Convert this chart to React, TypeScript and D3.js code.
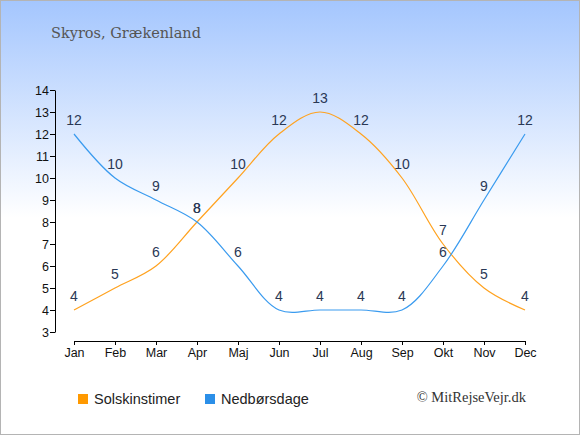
import React, { useEffect, useRef } from "react";
import * as d3 from "d3";

const months = ["Jan", "Feb", "Mar", "Apr", "Maj", "Jun", "Jul", "Aug", "Sep", "Okt", "Nov", "Dec"];
const sunHours = [4, 5, 6, 8, 10, 12, 13, 12, 10, 7, 5, 4];
const rainDays = [12, 10, 9, 8, 6, 4, 4, 4, 4, 6, 9, 12];
const yTicks = [3, 4, 5, 6, 7, 8, 9, 10, 11, 12, 13, 14];

const series = [
  { name: "Solskinstimer", values: sunHours, color: "#ffa21f", legend: "#ff9900" },
  { name: "Nedbørsdage", values: rainDays, color: "#3a9bef", legend: "#2b8fe8" },
];

const W = 580;
const H = 435;

const Chart: React.FC = () => {
  const ref = useRef<SVGSVGElement | null>(null);

  useEffect(() => {
    const svg = d3.select(ref.current);
    svg.selectAll("*").remove();

    // background
    const defs = svg.append("defs");
    const grad = defs
      .append("linearGradient")
      .attr("id", "bg")
      .attr("x1", 0)
      .attr("y1", 0)
      .attr("x2", 0)
      .attr("y2", 1);
    grad.append("stop").attr("offset", "0%").attr("stop-color", "#a4c6fe");
    grad.append("stop").attr("offset", "50%").attr("stop-color", "#ffffff");
    grad.append("stop").attr("offset", "100%").attr("stop-color", "#ffffff");

    svg
      .append("rect")
      .attr("x", 0.5)
      .attr("y", 0.5)
      .attr("width", W - 1)
      .attr("height", H - 1)
      .attr("fill", "url(#bg)")
      .attr("stroke", "#b4b4b4");

    svg
      .append("text")
      .attr("x", 51)
      .attr("y", 38)
      .style("font-family", "'DejaVu Serif', serif")
      .style("font-size", "14.5px")
      .attr("fill", "#555")
      .text("Skyros, Grækenland");

    const x = d3.scalePoint<string>().domain(months).range([74, 525]);
    const y = d3.scaleLinear().domain([3, 14]).range([332, 90]);

    // Y axis
    const yAxis = svg
      .append("g")
      .attr("transform", "translate(55,0)")
      .call(d3.axisLeft(y).tickValues(yTicks).tickFormat(d3.format("d")).tickSize(5).tickSizeOuter(0));
    yAxis
      .selectAll("text")
      .style("font-family", "'Liberation Sans', Arial, sans-serif")
      .style("font-size", "12.5px")
      .attr("fill", "#111")
      .attr("x", -6);

    // X axis
    const xAxis = svg
      .append("g")
      .attr("transform", "translate(0,341)")
      .call(d3.axisBottom(x).tickSize(4).tickSizeOuter(0));
    xAxis
      .selectAll("text")
      .style("font-family", "'Liberation Sans', Arial, sans-serif")
      .style("font-size", "12.5px")
      .attr("fill", "#111")
      .attr("y", 7);

    svg.selectAll(".domain, .tick line").attr("stroke", "#000");

    // Lines
    const line = d3
      .line<number>()
      .x((_, i) => x(months[i])!)
      .y((d) => y(d))
      .curve(d3.curveCatmullRom.alpha(0.5));

    series.forEach((s) => {
      svg
        .append("path")
        .attr("d", line(s.values))
        .attr("fill", "none")
        .attr("stroke", s.color)
        .attr("stroke-width", 1.2);
    });

    // Value labels
    series.forEach((s) => {
      svg
        .append("g")
        .selectAll("text")
        .data(s.values)
        .join("text")
        .attr("x", (_, i) => x(months[i])!)
        .attr("y", (d) => y(d) - 9)
        .attr("text-anchor", "middle")
        .style("font-family", "'Liberation Sans', Arial, sans-serif")
        .style("font-size", "14px")
        .attr("fill", "#2a3855")
        .text((d) => d);
    });

    // Legend
    const legendX = [78, 205];
    series.forEach((s, i) => {
      const row = svg.append("g").attr("transform", `translate(${legendX[i]},394)`);
      row.append("rect").attr("width", 10).attr("height", 10).attr("fill", s.legend);
      row
        .append("text")
        .attr("x", 16)
        .attr("y", 10)
        .style("font-family", "'Liberation Sans', Arial, sans-serif")
        .style("font-size", "14.5px")
        .attr("fill", "#222")
        .text(s.name);
    });

    svg
      .append("text")
      .attr("x", 526)
      .attr("y", 402)
      .attr("text-anchor", "end")
      .style("font-family", "'Liberation Serif', serif")
      .style("font-size", "14.5px")
      .attr("fill", "#333")
      .text("© MitRejseVejr.dk");
  }, []);

  return <svg ref={ref} width={W} height={H} style={{ display: "block" }} />;
};

export default function App() {
  return (
    <div style={{ position: "absolute", left: 0, top: 0 }}>
      <Chart />
    </div>
  );
}
